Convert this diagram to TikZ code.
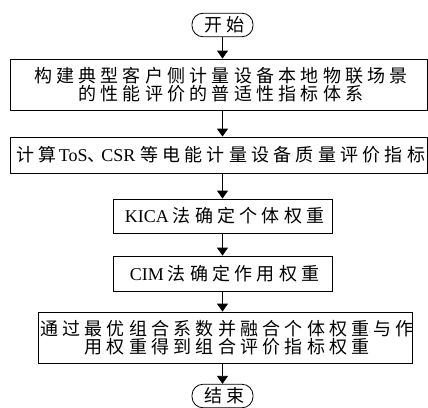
\documentclass[tikz,border=0pt]{standalone}
\usepackage{fontspec}
\setmainfont{Liberation Serif}
\newfontfamily\cjk[LetterSpace=23.5]{Noto Sans CJK SC}
\usetikzlibrary{arrows.meta}
\newcommand{\zh}[1]{{\cjk #1\kern-0.235em}}
\begin{document}
\begin{tikzpicture}[x=1pt,y=-1pt,
  box/.style={draw, line width=0.8pt, inner sep=0pt, align=center},
  term/.style={draw, line width=0.8pt, rounded corners=11pt, inner sep=0pt},
  arr/.style={line width=0.8pt, -{Triangle[length=8pt,width=11pt]}},
  txt/.style={font=\fontsize{18}{18}\selectfont}]
\useasboundingbox (0,0) rectangle (428,407);
\node[term, minimum width=61pt, minimum height=23.5pt, txt] (start) at (222.5,25) {\zh{开始}};
\node[box, minimum width=417.5pt, minimum height=51pt, txt] (b1) at (218.8,84.5)
  {\zh{构建典型客户侧计量设备本地物联场景}\\\zh{的性能评价的普适性指标体系}};
\node[box, minimum width=417.5pt, minimum height=36pt, txt] (b2) at (218.8,155)
  {\zh{计算}\hspace{6pt}ToS\zh{、}CSR\hspace{5pt}\zh{等电能计量设备质量评价指标}};
\node[box, minimum width=219pt, minimum height=34pt, txt] (b3) at (222.5,216)
  {KICA\hspace{4pt}\zh{法确定个体权重}};
\node[box, minimum width=219pt, minimum height=35pt, txt] (b4) at (222.5,273.5)
  {CIM\hspace{4pt}\zh{法确定作用权重}};
\node[box, minimum width=374pt, minimum height=51pt, txt] (b5) at (225,337.5)
  {\zh{通过最优组合系数并融合个体权重与作}\\\zh{用权重得到组合评价指标权重}};
\node[term, minimum width=61pt, minimum height=23.5pt, txt] (end) at (222.5,396) {\zh{结束}};
\draw[arr] (start.south) -- (start.south |- b1.north);
\draw[arr] (start.south |- b1.south) -- (start.south |- b2.north);
\draw[arr] (start.south |- b2.south) -- (start.south |- b3.north);
\draw[arr] (start.south |- b3.south) -- (start.south |- b4.north);
\draw[arr] (start.south |- b4.south) -- (start.south |- b5.north);
\draw[arr] (start.south |- b5.south) -- (end.north);
\end{tikzpicture}
\end{document}
